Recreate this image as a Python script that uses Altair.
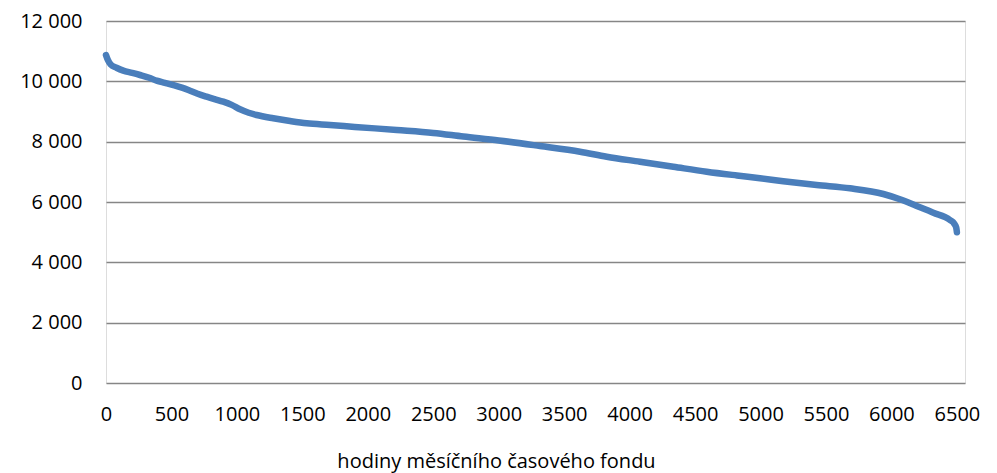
import altair as alt
import pandas as pd

hours = [0, 15, 35, 80, 132, 200, 260, 330, 387, 450, 514, 580, 642, 700, 769, 830,
         896, 960, 1024, 1090, 1151, 1278, 1406, 1533, 1711, 1900, 2221, 2500, 2730,
         3000, 3315, 3621, 3825, 4079, 4334, 4589, 4820, 4996, 5174, 5429, 5683, 5938,
         6065, 6193, 6320, 6447, 6480, 6495, 6500]
values = [10870, 10700, 10560, 10450, 10353, 10280, 10210, 10120, 10021, 9950, 9876,
          9790, 9690, 9590, 9491, 9410, 9325, 9220, 9073, 8960, 8884, 8775, 8685, 8609,
          8553, 8490, 8387, 8290, 8170, 8040, 7857, 7668, 7502, 7336, 7170, 7005, 6880,
          6790, 6690, 6564, 6454, 6265, 6090, 5868, 5645, 5404, 5280, 5150, 5000]
x_ticks = list(range(0, 6501, 500))
y_ticks = list(range(0, 12001, 2000))
x_title = "hodiny měsíčního časového fondu"

df = pd.DataFrame({"h": hours, "v": values})

FONT = "Open Sans"

chart = alt.Chart(df).mark_line(
    color="#4A7EBB", strokeWidth=6.5, strokeCap="round", strokeJoin="round",
    interpolate="monotone"
).encode(
    x=alt.X("h:Q", scale=alt.Scale(domain=[0, 6562], nice=False, zero=False),
            axis=alt.Axis(values=x_ticks, format="d", grid=False, domain=False,
                          ticks=False, labelPadding=21, labelFontSize=20,
                          labelFont=FONT, labelColor="#000000",
                          title=x_title, titleFont=FONT, titleFontSize=20,
                          titleFontWeight="normal", titleColor="#000000",
                          titlePadding=27, titleX=390, labelFlush=False)),
    y=alt.Y("v:Q", scale=alt.Scale(domain=[0, 12000], nice=False),
            axis=alt.Axis(values=y_ticks, grid=True, gridColor="#868686",
                          gridWidth=1.5, domain=False, ticks=False,
                          labelPadding=24, labelFontSize=20, labelFont=FONT,
                          labelColor="#000000", title=None,
                          labelExpr="replace(format(datum.value, ','), ',', ' ')"))
).properties(
    width=859, height=362,
    autosize=alt.AutoSizeParams(type="none"),
    padding={"left": 98, "top": 13, "right": 20, "bottom": 90}
).configure_view(stroke=None).configure(background="white")

chart.save("out.html", embed_options={"renderer": "svg", "actions": False})
